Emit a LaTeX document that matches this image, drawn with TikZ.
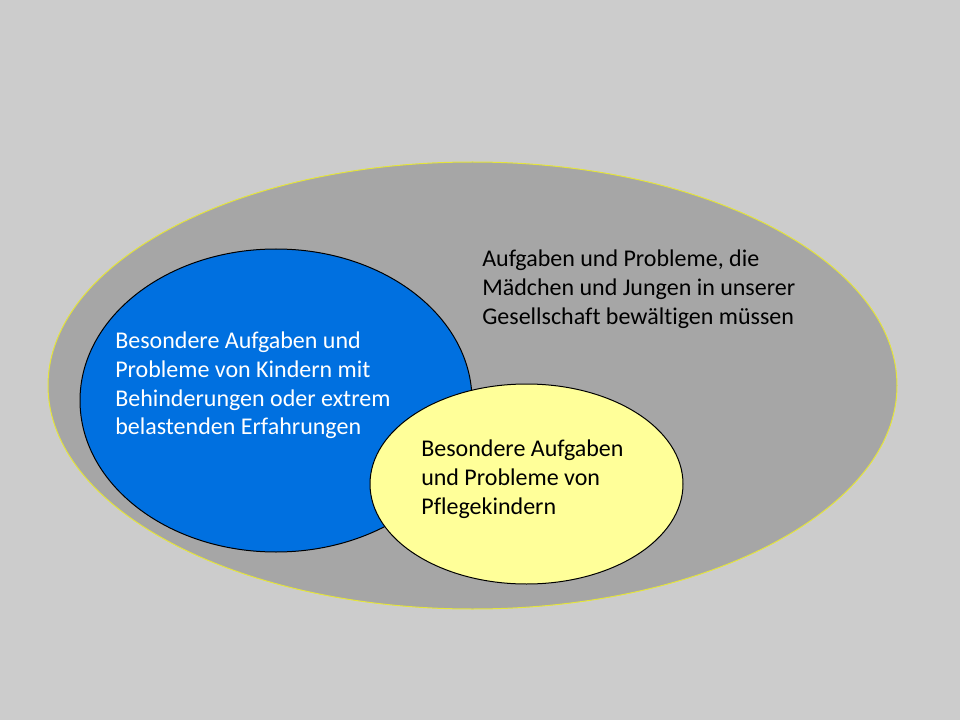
\documentclass[tikz,border=0pt]{standalone}
\usepackage{fontspec}
\setmainfont[Ligatures=NoCommon]{Carlito}
\usetikzlibrary{shapes.geometric}
\definecolor{bgcol}{RGB}{204,204,204}
\definecolor{outer}{RGB}{166,166,166}
\definecolor{outerline}{RGB}{228,228,60}
\definecolor{blueell}{RGB}{0,112,224}
\definecolor{yellowell}{RGB}{255,255,153}
\tikzset{
  ell/.style={ellipse, inner sep=0pt, line width=0.75pt},
  lbl/.style={anchor=north west, align=left, inner sep=0pt,
    font=\fontsize{18}{21.5}\selectfont}
}
\begin{document}
\begin{tikzpicture}[x=0.75pt,y=-0.75pt]
\fill[bgcol] (0,0) rectangle (960,720);
\useasboundingbox (0,0) rectangle (960,720);
\node[ell, draw=outerline, fill=outer, minimum width=636.75pt, minimum height=335.25pt] (outerell) at (472.5,385.5) {};
\node[ell, draw=black, fill=blueell, minimum width=294pt, minimum height=227.25pt] (blueell) at (276,400.5) {};
\node[ell, draw=black, fill=yellowell, minimum width=234.75pt, minimum height=150pt] (yellowell) at (526.5,484) {};
\node[lbl, text=black] (tout) at (482,250) {Aufgaben und Probleme, die\\Mädchen und Jungen in unserer\\Gesellschaft bewältigen müssen};
\node[lbl, text=white] (tblue) at (115,332) {Besondere Aufgaben und\\Probleme von Kindern mit\\Behinderungen oder extrem\\belastenden Erfahrungen};
\node[lbl, text=black] (tyellow) at (421,440) {Besondere Aufgaben\\und Probleme von\\Pflegekindern};
\end{tikzpicture}
\end{document}
